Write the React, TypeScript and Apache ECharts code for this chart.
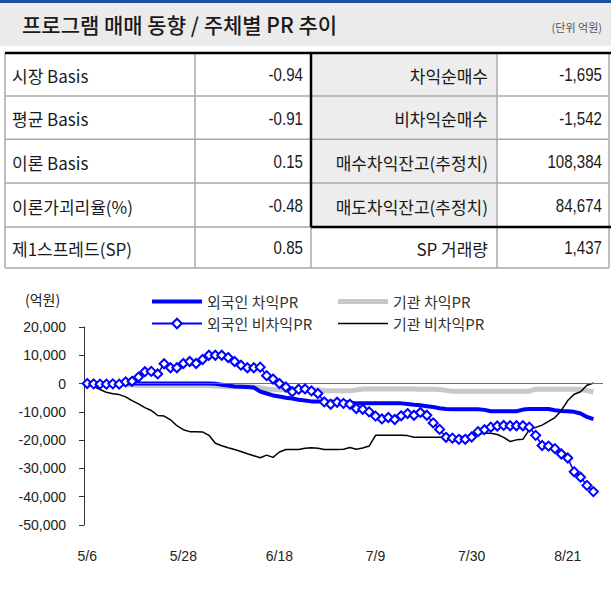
import React, { useEffect, useRef } from "react";
import * as echarts from "echarts";

const dates = [
  "5/6","5/7","5/8","5/11","5/12","5/13","5/14","5/15","5/18","5/19","5/20","5/21","5/22","5/26","5/27","5/28","5/29",
  "6/1","6/2","6/3","6/4","6/5","6/8","6/9","6/10","6/11","6/12","6/15","6/16","6/17","6/18","6/19","6/22","6/23","6/24","6/25","6/26","6/29","6/30",
  "7/1","7/2","7/3","7/6","7/7","7/8","7/9","7/10","7/13","7/14","7/15","7/16","7/17","7/20","7/21","7/22","7/23","7/24","7/27","7/28","7/29","7/30","7/31",
  "8/3","8/4","8/5","8/6","8/7","8/10","8/11","8/12","8/13","8/17","8/18","8/19","8/20","8/21","8/24","8/25","8/26","8/27","8/28",
];

const foreignArb = [
  0, 0, 0, 0, 0, 0, 0, 0, 0, 0,
  0, 0, 0, 0, 0, 0, 0, 0, 0, 0,
  -100, -400, -700, -1000, -1100, -1200, -1400, -2800, -3500, -4200,
  -4600, -5000, -5300, -5700, -6000, -6300, -6300, -6300, -6400, -6400,
  -6500, -6700, -7000, -7000, -7000, -7000, -7000, -7000, -7000, -7000,
  -7200, -7500, -7700, -8000, -8300, -8700, -9000, -9100, -9100, -9100,
  -9100, -9100, -9300, -9800, -9800, -9800, -9800, -9800, -9200, -9000,
  -9000, -9000, -9000, -9400, -9700, -9800, -10000, -10600, -11800, -12600,
];

const instArb = [
  0, 0, 0, 0, 0, 0, -300, -500, -700, -700,
  -700, -700, -700, -700, -700, -700, -700, -700, -700, -800,
  -900, -1000, -1100, -1100, -1100, -1100, -1200, -1500, -1900, -2200,
  -2200, -2200, -2200, -2200, -2200, -2200, -2200, -2500, -2500, -2500,
  -2500, -2500, -2300, -1900, -1900, -1900, -1900, -1900, -1900, -1900,
  -1900, -1900, -2000, -2000, -2000, -2100, -2400, -2700, -2700, -2700,
  -2700, -2700, -2700, -2700, -2700, -2700, -2700, -2700, -2700, -2700,
  -2000, -2000, -2000, -2000, -2000, -2000, -2000, -2100, -2500, -3000,
];

const foreignNonArb = [
  0, -100, -200, -200, -100, -200, 600, 800, 2300, 4200,
  4300, 3400, 7000, 5600, 5600, 7100, 7800, 7100, 8500, 10000,
  10000, 10000, 9200, 7800, 6500, 5600, 5600, 5800, 2800, 1600,
  0, -1200, -2900, -2000, -1900, -2600, -3500, -6500, -7300, -6600,
  -7000, -7300, -8800, -9100, -10000, -11500, -12500, -12000, -12700, -11400,
  -10600, -11200, -10200, -11200, -13900, -16200, -19000, -19300, -19700, -19700,
  -18900, -17000, -16300, -15400, -15000, -14800, -14900, -14900, -14900, -15400,
  -18300, -21900, -22100, -23000, -24900, -26300, -31200, -33100, -36000, -38200,
];

const instNonArb = [
  0, -1000, -2100, -3100, -3600, -3900, -4700, -6000, -7200, -8500,
  -9500, -11300, -11500, -12800, -14900, -16300, -17000, -17000, -17100, -18300,
  -21100, -22000, -22700, -23300, -24000, -24800, -25500, -26200, -25300, -26100,
  -24200, -23300, -23300, -23300, -22900, -22700, -22900, -23300, -23300, -23300,
  -23200, -22600, -23200, -22800, -22100, -18300, -18300, -18300, -18300, -18300,
  -18400, -19000, -19000, -19000, -19000, -19000, -19000, -19000, -18800, -18600,
  -18200, -17900, -17600, -17600, -18000, -19000, -20500, -19900, -19700, -16300,
  -15500, -14700, -13400, -12000, -9500, -6000, -3800, -2900, -600, 200,
];

const seriesNames = ["외국인 차익PR", "기관 차익PR", "외국인 비차익PR", "기관 비차익PR"];

const titleText = "프로그램 매매 동향 / 주체별 PR 추이";
const unitText = "(단위 억원)";
const axisUnit = "(억원)";

const leftLabels = ["시장 Basis", "평균 Basis", "이론 Basis", "이론가괴리율(%)", "제1스프레드(SP)"];
const leftValues = ["-0.94", "-0.91", "0.15", "-0.48", "0.85"];
const rightLabels = ["차익순매수", "비차익순매수", "매수차익잔고(추정치)", "매도차익잔고(추정치)", "SP 거래량"];
const rightValues = ["-1,695", "-1,542", "108,384", "84,674", "1,437"];

const KR = "'Noto Sans CJK KR', 'Noto Sans', sans-serif";
const LAT = "'Liberation Sans', Arial, sans-serif";

const lineIcon = (w: number) =>
  `path://M0,0M50,12M0,${6 - w / 2}L50,${6 - w / 2}L50,${6 + w / 2}L0,${6 + w / 2}Z`;

export default function App() {
  const ref = useRef<HTMLDivElement>(null);

  useEffect(() => {
    if (!ref.current) return;
    const chart = echarts.init(ref.current, null, { renderer: "svg" });

    const rowEdges = [53, 96, 139.3, 183, 227, 268];
    const colL = 5, col1 = 195, col2 = 311, col3 = 497, colR = 609;
    const gray = "#a8a8a8";

    const graphics: any[] = [];
    graphics.push({ type: "rect", shape: { x: 0, y: 0, width: 611, height: 3 }, style: { fill: "#1f4fa0" } });
    graphics.push({ type: "rect", shape: { x: 0, y: 3, width: 611, height: 43 }, style: { fill: "#ebebeb" } });
    graphics.push({
      type: "text", x: 22, y: 24,
      style: { text: titleText, font: `500 21px ${KR}`, fill: "#1a1a1a", textVerticalAlign: "middle", verticalAlign: "middle" },
    });
    graphics.push({
      type: "text", x: 602, y: 27,
      style: { text: unitText, font: `11px ${KR}`, fill: "#555", align: "right", textAlign: "right", verticalAlign: "middle", textVerticalAlign: "middle" },
    });
    graphics.push({ type: "rect", shape: { x: col2, y: rowEdges[0], width: col3 - col2, height: rowEdges[4] - rowEdges[0] }, style: { fill: "#ededed" } });
    const thin = (x1: number, y1: number, x2: number, y2: number) => ({
      type: "line", shape: { x1, y1, x2, y2 }, style: { stroke: gray, lineWidth: 1.5 },
    });
    for (let r = 1; r <= 3; r++) graphics.push(thin(colL, rowEdges[r], colR, rowEdges[r]));
    graphics.push(thin(colL, rowEdges[4], col2, rowEdges[4]));
    graphics.push(thin(colL, rowEdges[5], colR, rowEdges[5]));
    graphics.push(thin(colL, rowEdges[0], colL, rowEdges[5]));
    graphics.push(thin(col1, rowEdges[0], col1, rowEdges[5]));
    graphics.push(thin(col3, rowEdges[0], col3, rowEdges[5]));
    graphics.push(thin(colR, rowEdges[0], colR, rowEdges[5]));
    graphics.push(thin(col2, rowEdges[4], col2, rowEdges[5]));
    const thick = (x1: number, y1: number, x2: number, y2: number) => ({
      type: "line", shape: { x1, y1, x2, y2 }, style: { stroke: "#000", lineWidth: 2.5 },
    });
    graphics.push(thick(colL, rowEdges[0], 611, rowEdges[0]));
    graphics.push(thick(col2, rowEdges[0], col2, rowEdges[4]));
    graphics.push(thick(col2, rowEdges[4], 611, rowEdges[4]));

    const labelText = (text: string, x: number, y: number, align: string) => ({
      type: "text", x, y,
      style: { text, font: `17px ${KR}`, fill: "#1a1a1a", align, textAlign: align, verticalAlign: "middle", textVerticalAlign: "middle" },
    });
    const numText = (text: string, x: number, y: number) => ({
      type: "text", x, y, scaleX: 0.84,
      style: { text, font: `18px ${LAT}`, fill: "#1a1a1a", align: "right", textAlign: "right", verticalAlign: "middle", textVerticalAlign: "middle" },
    });
    for (let r = 0; r < 5; r++) {
      const cy = (rowEdges[r] + rowEdges[r + 1]) / 2 + 1;
      graphics.push(labelText(leftLabels[r], 12, cy, "left"));
      graphics.push(numText(leftValues[r], 303, cy));
      graphics.push(labelText(rightLabels[r], 488, cy, "right"));
      graphics.push(numText(rightValues[r], 602, cy));
    }
    graphics.push({
      type: "text", x: 25, y: 299,
      style: { text: axisUnit, font: `14px ${KR}`, fill: "#222", verticalAlign: "middle", textVerticalAlign: "middle" },
    });

    const legendText = { fontSize: 15, color: "#333", fontFamily: KR, lineHeight: 15 };

    chart.setOption({
      animation: false,
      backgroundColor: "#fff",
      graphic: graphics,
      legend: [
        {
          left: 146, top: 289, orient: "vertical", itemWidth: 50, itemHeight: 12, itemGap: 7,
          selectedMode: false, textStyle: legendText,
          data: [
            { name: seriesNames[0], icon: lineIcon(4) },
            { name: seriesNames[2] },
          ],
        },
        {
          left: 333, top: 289, orient: "vertical", itemWidth: 50, itemHeight: 12, itemGap: 7,
          selectedMode: false, textStyle: legendText,
          data: [
            { name: seriesNames[1], icon: lineIcon(5) },
            { name: seriesNames[3], icon: lineIcon(1.5) },
          ],
        },
      ],
      grid: { left: 84, right: 8, top: 327, bottom: 75 },
      xAxis: {
        type: "category",
        data: dates,
        boundaryGap: true,
        axisLine: { show: false },
        axisTick: { show: false },
        axisLabel: { interval: 14, margin: 24, fontSize: 14, color: "#222", fontFamily: LAT },
      },
      yAxis: {
        type: "value",
        min: -50000,
        max: 20000,
        interval: 10000,
        axisLine: { show: true, lineStyle: { color: "#333", width: 1 } },
        axisTick: { show: true, length: 5, lineStyle: { color: "#333" } },
        splitLine: { show: false },
        axisLabel: {
          margin: 18, fontSize: 14, color: "#222", fontFamily: LAT,
          formatter: (v: number) => v.toLocaleString("en-US"),
        },
      },
      series: [
        {
          name: seriesNames[1], type: "line", data: instArb, symbol: "none",
          lineStyle: { color: "#c8c8c8", width: 5 }, itemStyle: { color: "#c8c8c8" }, z: 2,
          markLine: {
            silent: true, symbol: ["none", "none"], label: { show: false },
            lineStyle: { color: "#6e6e6e", width: 1, type: "solid" },
            data: [{ yAxis: 0 }],
          },
        },
        {
          name: seriesNames[0], type: "line", data: foreignArb, symbol: "none",
          lineStyle: { color: "#0000ff", width: 4 }, itemStyle: { color: "#0000ff" }, z: 3,
        },
        {
          name: seriesNames[3], type: "line", data: instNonArb, symbol: "none",
          lineStyle: { color: "#000", width: 1.5 }, itemStyle: { color: "#000" }, z: 4,
        },
        {
          name: seriesNames[2], type: "line", data: foreignNonArb, symbol: "diamond", symbolSize: 9,
          showAllSymbol: true,
          lineStyle: { color: "#0000ff", width: 1.5 },
          itemStyle: { color: "#ffffff", borderColor: "#0000ff", borderWidth: 2 }, z: 5,
        },
      ],
    });

    return () => chart.dispose();
  }, []);

  return <div ref={ref} style={{ position: "fixed", left: 0, top: 0, width: 611, height: 600 }} />;
}
